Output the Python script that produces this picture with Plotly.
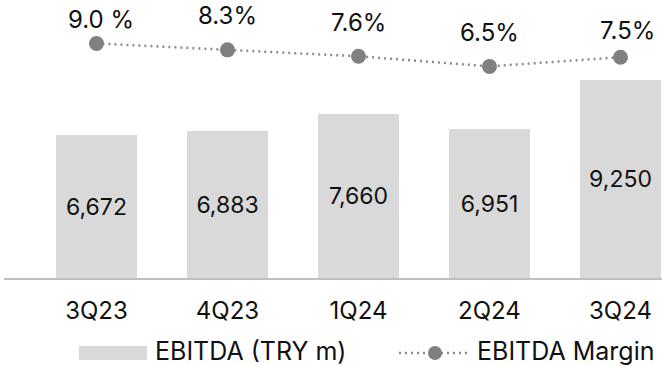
import plotly.graph_objects as go

# Quarterly EBITDA (TRY m) and EBITDA margin (%)
quarters = ["3Q23", "4Q23", "1Q24", "2Q24", "3Q24"]
ebitda = [6672, 6883, 7660, 6951, 9250]
margin = [9.0, 8.3, 7.6, 6.5, 7.5]
margin_labels = ["9.0 %", "8.3%", "7.6%", "6.5%", "7.5%"]

# label offsets (px) above each margin point
label_dy = [24, 34, 34, 34, 27]
label_dx = [5, 0, 0, 0, 7]

FONT = "Inter"
TXT = "#111111"
BAR = "#d9d9d9"
DOT = "#808080"
W, H = 662, 366
ML, MR, MT, MB = 4, 0, 0, 88


def px_x(p):
    return (p - ML) / (W - ML - MR)


def px_y(p):
    return (H - MB - p) / (H - MT - MB)


fig = go.Figure()

fig.add_trace(go.Bar(
    x=quarters, y=ebitda, width=0.62,
    marker=dict(color=BAR, line=dict(width=0)),
    texttemplate="%{y:,.0f}", textposition="inside",
    insidetextanchor="middle", textangle=0,
    textfont=dict(family=FONT, size=23, color=TXT),
    name="EBITDA (TRY m)", showlegend=False,
))

fig.add_trace(go.Scatter(
    x=quarters, y=margin, yaxis="y2", mode="lines+markers",
    line=dict(color="#8c8c8c", width=2.5, dash="2px,4px"),
    marker=dict(size=15, color=DOT),
    name="EBITDA Margin", showlegend=False, cliponaxis=False,
))

annotations = []
for q, v, lab, dy, dx in zip(quarters, margin, margin_labels, label_dy, label_dx):
    annotations.append(dict(
        x=q, y=v, xref="x", yref="y2", text=lab, showarrow=False,
        yshift=dy, xshift=dx, font=dict(family=FONT, size=24, color=TXT),
    ))

# legend drawn below the axis
annotations += [
    dict(x=px_x(153), y=px_y(351), xref="paper", yref="paper", text="EBITDA (TRY m)",
         showarrow=False, xanchor="left", yanchor="middle",
         font=dict(family=FONT, size=25, color=TXT)),
    dict(x=px_x(475), y=px_y(351), xref="paper", yref="paper", text="EBITDA Margin",
         showarrow=False, xanchor="left", yanchor="middle",
         font=dict(family=FONT, size=25, color=TXT)),
]

shapes = [
    dict(type="rect", xref="paper", yref="paper",
         x0=px_x(79), x1=px_x(147), y0=px_y(360), y1=px_y(346),
         fillcolor=BAR, line=dict(width=0)),
    dict(type="line", xref="paper", yref="paper",
         x0=px_x(399), x1=px_x(471), y0=px_y(353), y1=px_y(353),
         line=dict(color="#8c8c8c", width=2.5, dash="2px,4px")),
    dict(type="circle", xref="paper", yref="paper",
         x0=px_x(428), x1=px_x(442), y0=px_y(360), y1=px_y(346),
         fillcolor=DOT, line=dict(width=0)),
]

fig.update_layout(
    width=W, height=H,
    margin=dict(l=ML, r=MR, t=MT, b=MB),
    paper_bgcolor="white", plot_bgcolor="white",
    font=dict(family=FONT, size=23, color=TXT),
    showlegend=False, bargap=0,
    xaxis=dict(
        type="category", range=[-0.706, 4.317],
        showline=True, linecolor="#bfbfbf", linewidth=2,
        ticks="", showgrid=False, zeroline=False,
        tickfont=dict(family=FONT, size=24, color=TXT),
        ticklabelstandoff=10,
    ),
    yaxis=dict(range=[0, 13009], visible=False, showgrid=False),
    yaxis2=dict(range=[-16.55, 13.73], overlaying="y", visible=False, showgrid=False),
    annotations=annotations,
    shapes=shapes,
)

fig.write_html("out.html")
